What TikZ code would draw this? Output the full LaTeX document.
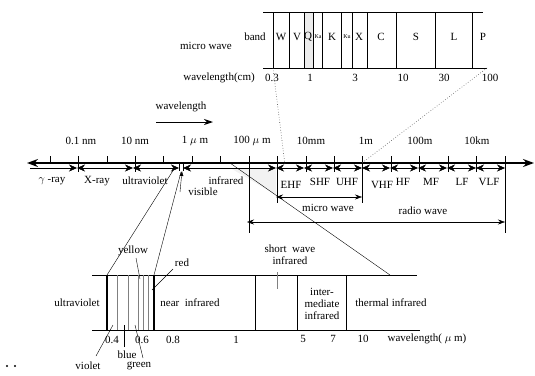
\documentclass[tikz,border=0pt]{standalone}
\usepackage{fontspec}
\setmainfont{Liberation Serif}
\usetikzlibrary{arrows.meta}
\begin{document}
\begin{tikzpicture}[x=1pt,y=-1pt,
  lbl/.style={font=\fontsize{11}{12}\selectfont, inner sep=0pt},
  tiny/.style={font=\fontsize{6}{7}\selectfont, inner sep=0pt},
  mainaxis/.style={line width=1.6pt, {Stealth[length=11pt,width=8pt]}-{Stealth[length=11pt,width=8pt]}},
  rng/.style={line width=0.4pt, {Stealth[length=8pt,width=7pt,inset=2.5pt]}-{Stealth[length=8pt,width=7pt,inset=2.5pt]}},
  rngr/.style={line width=0.4pt, -{Stealth[length=8pt,width=7pt,inset=2.5pt]}},
  span/.style={line width=0.5pt, {Stealth[length=7pt,width=5pt]}-{Stealth[length=7pt,width=5pt]}},
  boxline/.style={line width=1pt},
  sep/.style={line width=0.8pt},
  thinsep/.style={line width=0.4pt, gray},
  leader/.style={line width=0.4pt},
  dotline/.style={line width=0.6pt, dotted, black!70},
]
\useasboundingbox (0,0) rectangle (535,375);

% ---------------- top microwave band box
\fill[gray!15] (304,12) rectangle (313,68);
\coordinate (tbtl) at (263,12); \coordinate (tbtr) at (483,12);
\coordinate (tbbl) at (263,68); \coordinate (tbbr) at (487,68);
\draw[boxline] (tbtl) -- (tbtr);
\draw[boxline] (tbbl) -- (tbbr);
\foreach \x [count=\i] in {273,289,304,313,322,341,352,367,396,435,472}{
  \coordinate (mt\i) at (\x,12); \coordinate (mb\i) at (\x,68);
  \draw[sep] (mt\i) -- (mb\i);
}
\node[lbl] (band) at (255,37) {band};
\node[lbl] (bW) at (281,37) {W};
\node[lbl] (bV) at (297,37) {V};
\node[lbl] (bQ) at (308,37) {Q};
\node[tiny] (bKa) at (318,37) {Ka};
\node[lbl] (bK) at (332,37) {K};
\node[tiny] (bKu) at (347,37) {Ku};
\node[lbl] (bX) at (359,37) {X};
\node[lbl] (bC) at (381,37) {C};
\node[lbl] (bS) at (416,37) {S};
\node[lbl] (bL) at (454,37) {L};
\node[lbl] (bP) at (483,37) {P};
\node[lbl,anchor=east] (mwlab) at (232,46) {micro wave};
\node[lbl,anchor=east] (wlcm) at (255,78) {wavelength(cm)};
\node[lbl] (c03) at (272,78) {0.3};
\node[lbl] (c1) at (310,78) {1};
\node[lbl] (c3) at (355,78) {3};
\node[lbl] (c10) at (403,78) {10};
\node[lbl] (c30) at (444,78) {30};
\node[lbl] (c100) at (490,78) {100};

% ---------------- wavelength arrow
\node[lbl] (wl) at (181,107) {wavelength};
\coordinate (wla) at (156,122); \coordinate (wlb) at (213,122);
\draw[line width=1pt,-{Stealth[length=9pt,width=6pt]}] (wla) -- (wlb);

% ---------------- main axis
\coordinate (axL) at (27,163); \coordinate (axR) at (534,163);
\fill[gray!10] (232,169) -- (276,169) -- (276,195) -- cycle;
\draw[mainaxis] (axL) -- (axR);

% ticks
\foreach \i in {0,...,16}{
  \coordinate (tk\i) at ({50+\i*28.44},156);
  \coordinate (tb\i) at ({50+\i*28.44},163);
}
\foreach \i in {0,2,4,5,6}{ \draw[line width=0.6pt] (tk\i) -- (tb\i); }
\foreach \i in {1,3,9,10,12,13,14,15}{
  \coordinate (tl\i) at ({50+\i*28.44},172);
  \draw[line width=0.6pt] (tk\i) -- (tl\i);
}
\coordinate (v247) at (tb7 |- 0,233); \draw[sep] (tk7) -- (v247);
\coordinate (v276) at (tb8 |- 0,203); \draw[sep] (tk8) -- (v276);
\coordinate (v362) at (tb11 |- 0,203); \draw[sep] (tk11) -- (v362);
\coordinate (v505) at (tb16 |- 0,233); \draw[sep] (tk16) -- (v505);

% tick labels
\node[lbl] (n01) at (81,141) {0.1 nm};
\node[lbl] (n10) at (135,141) {10 nm};
\node[lbl] (n1u) at (195,141) {1 $\mu$ m};
\node[lbl] (n100u) at (252,141) {100 $\mu$ m};
\node[lbl] (n10mm) at (311,141) {10mm};
\node[lbl] (n1m) at (366,141) {1m};
\node[lbl] (n100m) at (420,141) {100m};
\node[lbl] (n10km) at (477,141) {10km};

% range arrows under the axis
\foreach \x [count=\i] in {30,77,133,179,183,276,304,333,362,390,418,447,476,505}{
  \coordinate (q\i) at (\x,168);
}
\draw[rngr] (q1) -- (q2);
\foreach \a/\b in {2/3,3/4,5/6,6/7,7/8,8/9,9/10,10/11,11/12,12/13,13/14}{
  \draw[rng] (q\a) -- (q\b);
}
\coordinate (vs1) at (179,163); \coordinate (vs1b) at (179,171);
\coordinate (vs2) at (183,163); \coordinate (vs2b) at (183,171);
\draw[line width=0.4pt] (vs1) -- (vs1b);
\draw[line width=0.4pt] (vs2) -- (vs2b);

% region labels
\node[lbl] (gam) at (52,181) {$\gamma$ -ray};
\node[lbl] (xr) at (97,181) {X-ray};
\node[lbl] (uv) at (145,181) {ultraviolet};
\node[lbl] (ir) at (226,181) {infrared};
\node[lbl] (vis) at (203,192) {visible};
\node[lbl] (ehf) at (291,185) {EHF};
\node[lbl] (shf) at (320,182) {SHF};
\node[lbl] (uhf) at (347,182) {UHF};
\node[lbl] (vhf) at (382,185) {VHF};
\node[lbl] (hf) at (403,182) {HF};
\node[lbl] (mf) at (431,182) {MF};
\node[lbl] (lf) at (462,182) {LF};
\node[lbl] (vlf) at (489,182) {VLF};

\coordinate (visfoot) at (180,192); \coordinate (vistip) at (182,171);
\draw[leader,-{Latex[length=5pt,width=4pt]}] (visfoot) -- (vistip);

% micro wave / radio wave spans
\coordinate (mwA) at (276,197); \coordinate (mwB) at (362,197);
\draw[span] (mwA) -- (mwB);
\node[lbl] (mwl) at (328,208) {micro wave};
\coordinate (rwA) at (247,222); \coordinate (rwB) at (505,222);
\draw[span] (rwA) -- (rwB);
\node[lbl] (rwl) at (423,211) {radio wave};

% dotted connectors
\coordinate (d1a) at (273,68); \coordinate (d1b) at (285,165);
\draw[dotline] (d1a) -- (d1b);
\coordinate (d2a) at (487,68); \coordinate (d2b) at (362,163);
\draw[dotline] (d2a) -- (d2b);

% ---------------- lower box
\coordinate (lbtl) at (92,275); \coordinate (lbtr) at (417,275);
\coordinate (lbbl) at (92,330); \coordinate (lbbr) at (420,330);
\draw[boxline] (lbtl) -- (lbtr);
\draw[boxline] (lbbl) -- (lbbr);
\foreach \x [count=\i] in {117,128,138,143,148}{
  \coordinate (lt\i) at (\x,275); \coordinate (lb\i) at (\x,330);
  \draw[thinsep] (lt\i) -- (lb\i);
}
\foreach \x [count=\i] in {107,154}{
  \coordinate (Lt\i) at (\x,275); \coordinate (Lb\i) at (\x,330);
  \draw[line width=1.1pt] (Lt\i) -- (Lb\i);
}
\foreach \x [count=\i] in {255,297,346}{
  \coordinate (Mt\i) at (\x,275); \coordinate (Mb\i) at (\x,330);
  \draw[sep] (Mt\i) -- (Mb\i);
}

% connectors from main axis to lower box
\coordinate (c1a) at (174,169); \draw[leader] (c1a) -- (Lt1);
\coordinate (c2a) at (181,172); \draw[leader] (c2a) -- (Lt2);
\coordinate (c3a) at (230,163); \coordinate (c3b) at (390,275);
\draw[leader] (c3a) -- (c3b);

% lower box labels
\node[lbl] (luv) at (77,303) {ultraviolet};
\node[lbl] (lnir) at (190,303) {near\ \ infrared};
\node[lbl,align=center] (lswir) at (290,255) {short\ \ wave\\infrared};
\node[lbl,align=center] (lmir) at (322,304) {inter-\\mediate\\infrared};
\node[lbl] (ltir) at (391,303) {thermal infrared};
\node[lbl] (l04) at (112,340) {0.4};
\node[lbl] (l06) at (142,340) {0.6};
\node[lbl] (l08) at (173,340) {0.8};
\node[lbl] (l1) at (236,340) {1};
\node[lbl] (l5) at (303,339) {5};
\node[lbl] (l7) at (333,339) {7};
\node[lbl] (l10) at (363,339) {10};
\node[lbl] (lwl) at (427,339) {wavelength( $\mu$ m)};

\coordinate (sw1) at (277,272); \coordinate (sw2) at (277,289);
\draw[thinsep] (sw1) -- (sw2);

% colour labels
\node[lbl] (yel) at (133,251) {yellow};
\coordinate (ye1) at (136,258); \coordinate (ye2) at (140,279);
\draw[leader] (ye1) -- (ye2);
\node[lbl] (red) at (182,263) {red};
\coordinate (re1) at (173,269); \coordinate (re2) at (152,290);
\draw[leader] (re1) -- (re2);
\node[lbl] (vio) at (88,366) {violet};
\coordinate (vi1) at (96,356); \coordinate (vi2) at (113,325);
\draw[leader] (vi1) -- (vi2);
\node[lbl] (blu) at (127,355) {blue};
\coordinate (bl1) at (124,347); \coordinate (bl2) at (124,325);
\draw[leader] (bl1) -- (bl2);
\node[lbl] (grn) at (139,366) {green};
\coordinate (gr1) at (143,358); \coordinate (gr2) at (135,325);
\draw[leader] (gr1) -- (gr2);

% stray dots
\fill (7,366) circle (1.1pt);
\fill (15,366) circle (1.1pt);
\end{tikzpicture}
\end{document}
